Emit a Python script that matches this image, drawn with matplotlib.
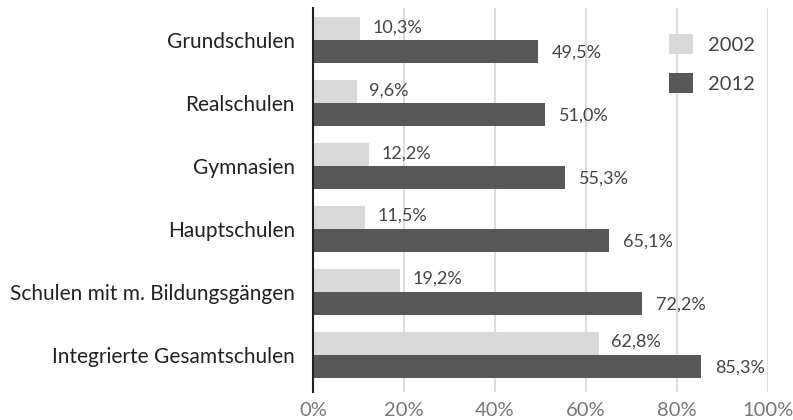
import matplotlib
matplotlib.use("Agg")
import matplotlib.pyplot as plt
import numpy as np

plt.rcParams["font.family"] = ["Lato", "DejaVu Sans"]

categories = ["Grundschulen", "Realschulen", "Gymnasien", "Hauptschulen",
              "Schulen mit m. Bildungsgängen", "Integrierte Gesamtschulen"]
vals_2002 = [10.3, 9.6, 12.2, 11.5, 19.2, 62.8]
vals_2012 = [49.5, 51.0, 55.3, 65.1, 72.2, 85.3]
series_names = ["2002", "2012"]
xticks = [0, 20, 40, 60, 80, 100]

c_light = "#d9d9d9"
c_dark = "#575757"

fig = plt.figure(figsize=(7.93, 4.2), dpi=100)
ax = fig.add_axes([0.3947, 0.0667, 0.574, 0.914])

y = np.arange(len(categories))
h = 0.365
ax.barh(y - h / 2, vals_2002, height=h, color=c_light, label=series_names[0], zorder=2)
ax.barh(y + h / 2, vals_2012, height=h, color=c_dark, label=series_names[1], zorder=2)

def fmt(v):
    return f"{v:.1f}%".replace(".", ",")

# Wertebeschriftungen rechts neben den Balken
for yy, v in zip(y, vals_2002):
    ax.annotate(fmt(v), (v, yy - h / 2), xytext=(9, 1), textcoords="offset points",
                va="center", ha="left", fontsize=13, color="#444444")
for yy, v in zip(y, vals_2012):
    ax.annotate(fmt(v), (v, yy + h / 2), xytext=(10, -1), textcoords="offset points",
                va="center", ha="left", fontsize=13, color="#444444")

ax.set_xlim(0, 100)
ax.set_ylim(5.59, -0.51)
ax.set_yticks(y)
ax.set_yticklabels(categories, fontsize=15, color="#222222")
ax.set_xticks(xticks)
ax.set_xticklabels([f"{t}%" for t in xticks], fontsize=14.5, color="#777777")
ax.tick_params(axis="both", length=0)
ax.tick_params(axis="y", pad=13)
ax.tick_params(axis="x", pad=7)

ax.grid(axis="x", color="#dddddd", linewidth=1.5, zorder=0)
ax.set_axisbelow(True)
for s in ["top", "right", "bottom"]:
    ax.spines[s].set_visible(False)
ax.spines["left"].set_color("#222222")
ax.spines["left"].set_linewidth(1.5)
ax.spines["left"].set_zorder(3)

ax.legend(loc="upper right", bbox_to_anchor=(1.01, 0.98), frameon=False, fontsize=14.5,
          handlelength=1.15, handleheight=1.15, labelspacing=0.95, handletextpad=0.75,
          labelcolor="#444444")

fig.savefig("out.png", dpi=100)
